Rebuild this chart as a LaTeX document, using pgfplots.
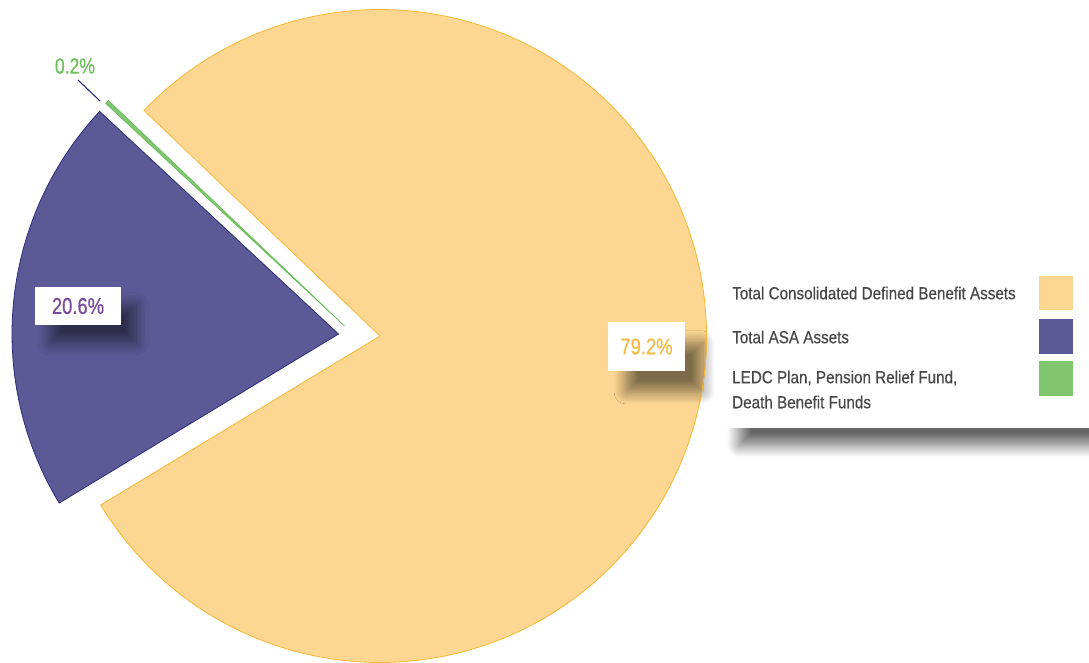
\documentclass[border=0pt]{standalone}
\usepackage{fontspec}
\setmainfont{Liberation Sans}[FakeStretch=0.87, FakeBold=0.4]
\newfontfamily\labelfont{Liberation Sans}[FakeStretch=0.8, FakeBold=0.5]
\usepackage{pgfplots}
\usepackage{pgfplotstable}
\pgfplotsset{compat=1.18}
\usetikzlibrary{shadows.blur}

\definecolor{cdbfill}{HTML}{FDD692}
\definecolor{cdbedge}{HTML}{F8B735}
\definecolor{asafill}{HTML}{5C5A96}
\definecolor{asaedge}{HTML}{2A2D7C}
\definecolor{ledcfill}{HTML}{80C670}
\definecolor{ledcedge}{HTML}{5FB94E}
\definecolor{cdbtext}{HTML}{F7BB45}
\definecolor{asatext}{HTML}{7A4A9C}
\definecolor{ledctext}{HTML}{6CC05A}
\definecolor{legtext}{HTML}{474747}

% pie data: share in percent, slice apex (after explosion) in picture units
\pgfplotstableread{
slice value ax ay
CDB  79.2 380.0 326.0
LEDC 0.2  344.5 336.0
ASA  20.6 338.5 328.0
}\piedata

\newcommand\getval[3]{\pgfplotstablegetelem{#1}{#2}\of\piedata\edef#3{\pgfplotsretval}}
\getval{0}{value}\vA \getval{0}{ax}\axA \getval{0}{ay}\ayA
\getval{1}{value}\vB \getval{1}{ax}\axB \getval{1}{ay}\ayB
\getval{2}{value}\vC \getval{2}{ax}\axC \getval{2}{ay}\ayC
\pgfmathsetmacro\R{326.5}
\pgfmathsetmacro\sA{-148.82}
\pgfmathsetmacro\eA{\sA+3.6*\vA}
\pgfmathsetmacro\sB{\eA}
\pgfmathsetmacro\eB{\sB+3.6*\vB}
\pgfmathsetmacro\sC{\eB}
\pgfmathsetmacro\eC{\sC+3.6*\vC}

\begin{document}
\begin{tikzpicture}
\useasboundingbox (0,0) rectangle (1089pt,662pt);
\begin{axis}[at={(0,0)}, anchor=south west, scale only axis,
  width=1089pt, height=662pt,
  xmin=0, xmax=1089, ymin=0, ymax=662,
  hide axis, clip=false]
% slices
\addplot[draw=cdbedge, fill=cdbfill, line width=0.8pt, domain=\sA:\eA, samples=241, variable=\t, mark=none]
  ({\axA+\R*cos(\t)},{\ayA+\R*sin(\t)}) -- (axis cs:\axA,\ayA) -- cycle;
\addplot[draw=ledcedge, fill=ledcfill, line width=0.5pt, domain=\sB:\eB, samples=3, variable=\t, mark=none]
  ({\axB+\R*cos(\t)},{\ayB+\R*sin(\t)}) -- (axis cs:\axB,\ayB) -- cycle;
\addplot[draw=asaedge, fill=asafill, line width=0.8pt, domain=\sC:\eC, samples=81, variable=\t, mark=none]
  ({\axC+\R*cos(\t)},{\ayC+\R*sin(\t)}) -- (axis cs:\axC,\ayC) -- cycle;

% data labels
\node[fill=white, minimum width=77pt, minimum height=49pt, inner sep=0pt,
  blur shadow={shadow xshift=18pt, shadow yshift=-21pt, shadow blur radius=12pt, shadow blur steps=12, shadow opacity=50},
  text=cdbtext, font=\labelfont\fontsize{23}{26}\selectfont]
  at (axis cs:646.5,315.5) {79.2\%};
\node[fill=white, minimum width=86pt, minimum height=38pt, inner sep=0pt,
  blur shadow={shadow xshift=15pt, shadow yshift=-18pt, shadow blur radius=12pt, shadow blur steps=12, shadow opacity=50},
  text=asatext, font=\labelfont\fontsize{23}{26}\selectfont]
  at (axis cs:78,356) {20.6\%};
\node[text=ledctext, font=\labelfont\fontsize{22}{26}\selectfont] at (axis cs:75,596) {0.2\%};
\draw[asaedge, line width=1.1pt] (axis cs:78,582) -- (axis cs:100,561);
% pie rim seen through the label shadow
\addplot[draw=cdbedge, line width=0.8pt, domain=-12:2, samples=15, variable=\t, mark=none]
  ({\axA+\R*cos(\t)},{\ayA+\R*sin(\t)});

% legend
\node[fill=white, anchor=north west, minimum width=370pt, minimum height=166pt, inner sep=0pt,
  blur shadow={shadow xshift=14pt, shadow yshift=-17pt, shadow blur radius=12pt, shadow blur steps=12, shadow opacity=60}]
  at (axis cs:725,400) {};
\begin{scope}[every node/.style={anchor=west, text=legtext, font=\fontsize{17.5}{24}\selectfont, inner sep=0pt}]
\node at (axis cs:732,369) {Total Consolidated Defined Benefit Assets};
\node at (axis cs:732,325) {Total ASA Assets};
\node at (axis cs:732,284) {LEDC Plan, Pension Relief Fund,};
\node at (axis cs:732,260) {Death Benefit Funds};
\end{scope}
\fill[cdbfill] (axis cs:1039,352) rectangle (axis cs:1073,386);
\fill[asafill] (axis cs:1039,308) rectangle (axis cs:1073,343);
\fill[ledcfill] (axis cs:1039,266) rectangle (axis cs:1073,301);
\end{axis}
\end{tikzpicture}
\end{document}
